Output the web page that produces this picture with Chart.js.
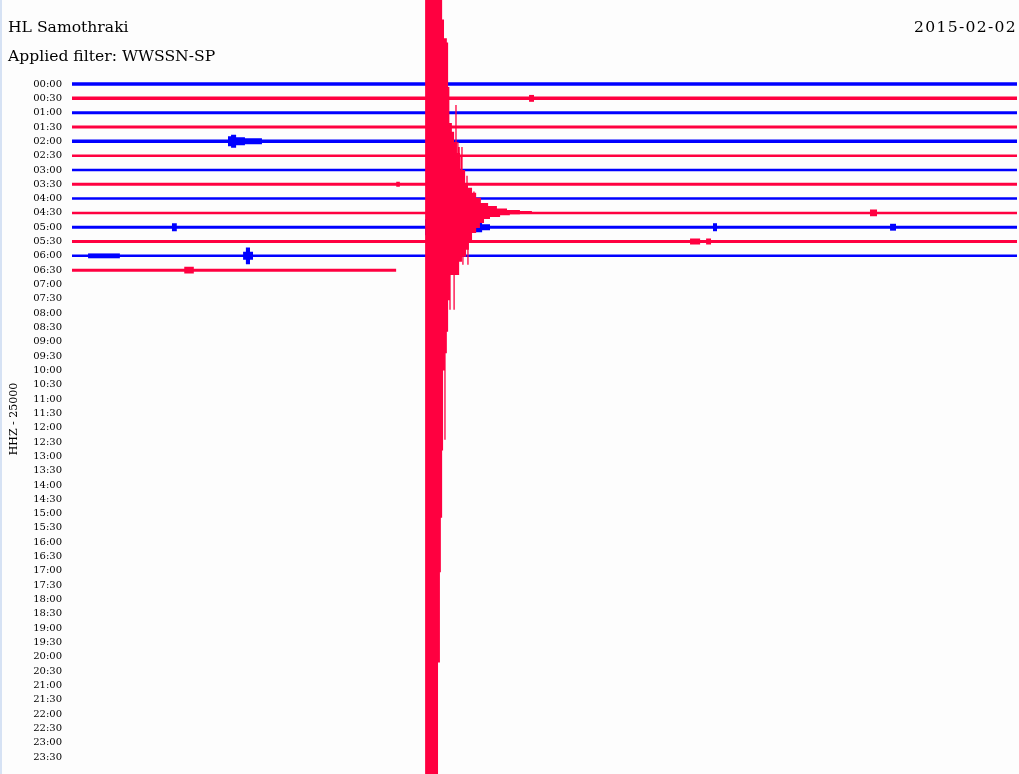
<!DOCTYPE html>
<html>
<head>
<meta charset="utf-8">
<title>HL Samothraki 2015-02-02</title>
<script src="https://cdn.jsdelivr.net/npm/chart.js@4/dist/chart.umd.min.js"></script>
<style>
  html, body { margin: 0; padding: 0; background: #fdfdfd; }
  #wrap { width: 1019px; height: 774px; }
</style>
</head>
<body>
<div id="wrap"><canvas id="heli" width="1019" height="774"></canvas></div>
<script>
// one line every half hour
const rowLabels = [
  '00:00','00:30','01:00','01:30','02:00','02:30','03:00','03:30',
  '04:00','04:30','05:00','05:30','06:00','06:30','07:00','07:30',
  '08:00','08:30','09:00','09:30','10:00','10:30','11:00','11:30',
  '12:00','12:30','13:00','13:30','14:00','14:30','15:00','15:30',
  '16:00','16:30','17:00','17:30','18:00','18:30','19:00','19:30',
  '20:00','20:30','21:00','21:30','22:00','22:30','23:00','23:30'
];

// minutes of signal on each line that has data
const rowEnd = [30, 30, 30, 30, 30, 30, 30, 30, 30, 30, 30, 30, 30, 10.29];

// big quake on the 04:30 line, amplitude in line spacings
const quakeRow = 9;
const quakeTime = [11.21, 11.62, 11.68, 11.71, 11.75, 11.78, 11.81, 11.84, 11.90, 11.94,
                   11.98, 12.00, 12.06, 12.13, 12.22, 12.29, 12.32, 12.38, 12.48, 12.51,
                   12.57, 12.60, 12.70, 12.83, 12.95, 12.98, 13.08, 13.21, 13.27, 13.49,
                   13.59, 13.81, 13.90, 14.22, 14.60];
const quakeUp   = [15.5, 15.5, 15.5, 15.5, 13.5, 13.5, 12.2, 12.2, 11.9, 8.8,
                   6.28, 6.28, 5.66, 4.96, 4.19, 4.19, 3.0, 3.0, 2.09, 2.09,
                   1.75, 1.75, 1.4, 1.05, 1.05, 0.7, 0.7, 0.49, 0.49, 0.31,
                   0.31, 0.21, 0.21, 0.14, 0];
const quakeDown = [40, 31.4, 25.1, 21.3, 16.6, 11.0, 11.0, 9.8, 8.3, 6.1,
                   6.1, 4.33, 4.33, 4.33, 4.33, 3.42, 3.42, 3.07, 3.07, 2.58,
                   2.58, 1.89, 1.40, 1.05, 0.70, 0.70, 0.42, 0.42, 0.28, 0.28,
                   0.17, 0.17, 0.10, 0.07, 0];
// single swings poking out of the quake envelope
const spikeTime = [12.19, 12.25, 12.29, 12.35, 12.38, 12.54, 12.76, 11.84, 12.00, 12.13, 12.41, 12.57];
const spikeAmp  = [-7.54, -4.96, -4.6, -3.9, -4.6, -2.6, -1.5, 15.85, 6.77, 6.77, 3.63, 3.63];

// small events
const eventRow  = [1, 4, 7, 9, 10, 10, 10, 10, 11, 12, 12, 13];
const eventTime = [
  [14.51, 14.67],
  [4.95, 5.05, 5.21, 5.49, 6.03],
  [10.29, 10.41],
  [25.33, 25.56],
  [3.17, 3.33],
  [11.21, 12.63, 13.02, 13.27],
  [20.35, 20.48],
  [25.97, 26.16],
  [19.62, 19.94, 20.13, 20.29],
  [0.51, 1.52],
  [5.43, 5.52, 5.65, 5.75],
  [3.56, 3.87]
];
const eventAmp = [
  [0.24, 0],
  [0.35, 0.45, 0.28, 0.21, 0],
  [0.17, 0],
  [0.24, 0],
  [0.28, 0],
  [0.56, 0.35, 0.21, 0],
  [0.28, 0],
  [0.24, 0],
  [0.21, 0, 0.21, 0],
  [0.17, 0],
  [0.28, 0.59, 0.28, 0],
  [0.24, 0]
];

const BLUE = '#0000ff';
const RED = '#ff0040';
const rowColor = i => (i % 2 === 0 ? BLUE : RED);
const lineW = [3.5, 3.5, 3, 3, 3.5, 2.5, 2.5, 3, 2.5, 2.5, 3, 3, 2.5, 3];

function envelope(row, times, amps, sign, color, order) {
  return {
    data: times.map((t, j) => ({ x: t, y: row + sign * amps[j] })),
    stepped: true,
    fill: { value: row },
    backgroundColor: color,
    borderColor: color,
    borderWidth: 0,
    pointRadius: 0,
    order: order
  };
}

const datasets = [];
rowEnd.forEach((end, i) => {
  datasets.push({
    data: [{ x: 0, y: i }, { x: end, y: i }],
    borderColor: rowColor(i),
    borderWidth: lineW[i],
    borderCapStyle: 'butt',
    pointRadius: 0,
    fill: false,
    order: 100 - i
  });
});
eventRow.forEach((r, k) => {
  datasets.push(envelope(r, eventTime[k], eventAmp[k], -1, rowColor(r), 5));
  datasets.push(envelope(r, eventTime[k], eventAmp[k], 1, rowColor(r), 5));
});
datasets.push(envelope(quakeRow, quakeTime, quakeUp, -1, RED, 0));
datasets.push(envelope(quakeRow, quakeTime, quakeDown, 1, RED, 0));

const spikePts = [];
spikeTime.forEach((t, k) => {
  spikePts.push({ x: t, y: quakeRow }, { x: t, y: quakeRow + spikeAmp[k] }, { x: t, y: null });
});
datasets.push({
  data: spikePts,
  borderColor: RED,
  borderWidth: 1.3,
  borderCapStyle: 'butt',
  pointRadius: 0,
  fill: false,
  spanGaps: false,
  order: 0
});

const decor = {
  id: 'decor',
  beforeDraw(chart) {
    const ctx = chart.ctx;
    ctx.save();
    ctx.fillStyle = '#fdfdfd';
    ctx.fillRect(0, 0, chart.width, chart.height);
    ctx.fillStyle = '#d6e2f4';
    ctx.fillRect(0, 0, 2, chart.height);
    ctx.restore();
  },
  afterDraw(chart) {
    const ctx = chart.ctx;
    ctx.save();
    ctx.fillStyle = '#000';
    ctx.font = '15.6px "DejaVu Serif"';
    ctx.textBaseline = 'alphabetic';
    ctx.textAlign = 'left';
    ctx.fillText('HL Samothraki', 8, 32);
    ctx.fillText('Applied filter: WWSSN-SP', 8, 61);
    ctx.textAlign = 'right';
    ctx.letterSpacing = '1.3px';
    ctx.fillText('2015-02-02', 1017, 32);
    ctx.letterSpacing = '0px';
    ctx.translate(17, 419);
    ctx.rotate(-Math.PI / 2);
    ctx.textAlign = 'center';
    ctx.font = '11px "DejaVu Serif"';
    ctx.fillText('HHZ - 25000', 0, 0);
    ctx.restore();
  }
};

new Chart(document.getElementById('heli'), {
  type: 'line',
  data: { datasets },
  options: {
    responsive: false,
    animation: false,
    layout: { padding: { left: 0, right: 2, top: 0, bottom: 0 } },
    plugins: { legend: { display: false }, tooltip: { enabled: false } },
    scales: {
      x: { type: 'linear', min: 0, max: 30, display: false },
      y: {
        type: 'linear',
        reverse: true,
        min: -5.87,
        max: 48.19,
        grid: { display: false, drawTicks: false },
        border: { display: false },
        afterBuildTicks: s => { s.ticks = rowLabels.map((_, i) => ({ value: i })); },
        afterFit: s => { s.width = 72; s.paddingTop = 0; s.paddingBottom = 0; },
        ticks: {
          autoSkip: false,
          padding: 10,
          color: '#000',
          font: { family: 'DejaVu Serif', size: 10 },
          callback: v => rowLabels[v]
        }
      }
    }
  },
  plugins: [decor]
});
</script>
</body>
</html>
